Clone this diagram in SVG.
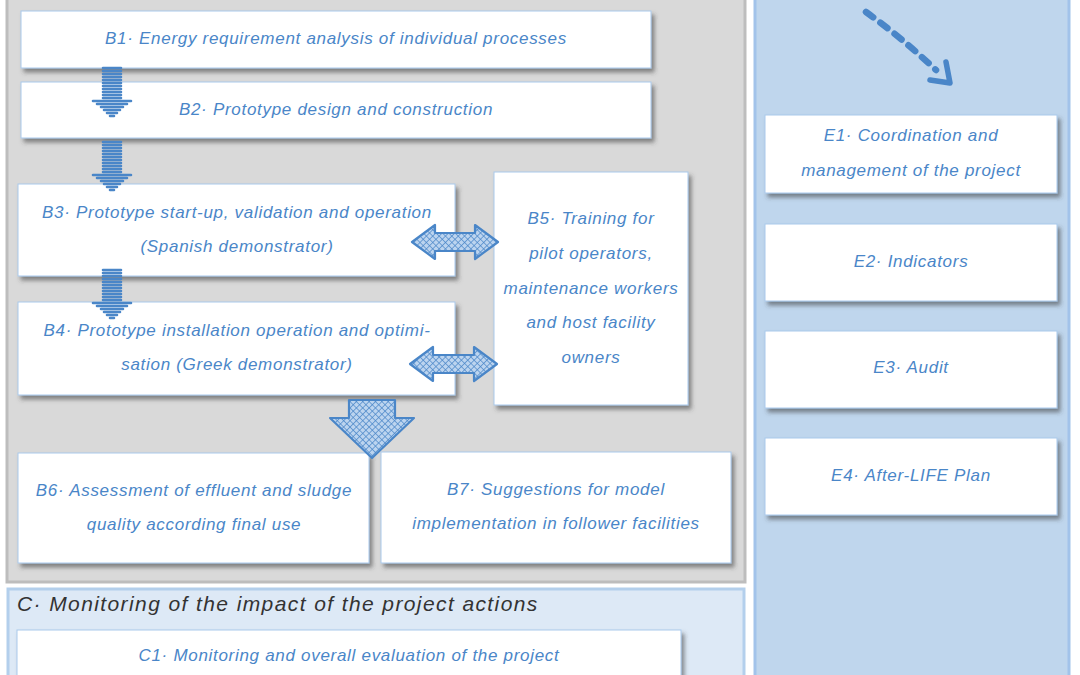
<svg xmlns="http://www.w3.org/2000/svg" width="1080" height="675" viewBox="0 0 1080 675">
<defs>
<style>
.box{fill:#ffffff;stroke:#a9c9ec;stroke-width:1;filter:url(#sh)}
.t{font-family:"Liberation Sans","DejaVu Sans",sans-serif;font-style:italic;font-size:17px;letter-spacing:0.7px;fill:#4a86c8;text-anchor:middle}
.title{font-family:"Liberation Sans","DejaVu Sans",sans-serif;font-style:italic;font-size:21px;letter-spacing:1.4px;fill:#333333}
.stripe{stroke:#4a86c8;stroke-width:2.6;stroke-linecap:round}
.hatch{fill:url(#hp);stroke:#4a86c8;stroke-width:2.2;stroke-linejoin:round}
</style>
<filter id="sh" x="-5%" y="-10%" width="115%" height="130%">
<feDropShadow dx="3" dy="4" stdDeviation="2" flood-color="#3a3a3a" flood-opacity="0.55"/>
</filter>
<pattern id="hp" patternUnits="userSpaceOnUse" width="4.5" height="4.5" patternTransform="rotate(45)">
<rect width="4.5" height="4.5" fill="#bcd4ef"/>
<path d="M0,0 L4.5,0 M0,0 L0,4.5" stroke="#4a86c8" stroke-width="1.4"/>
</pattern>
<g id="sarrow">
<path class="stripe" d="M103,68H121M103,71H121M103,74H121M103,77H121M103,80H121M103,83H121M103,86H121M103,89H121M103,92H121M103,95H121M103,98H121M93,101H131M97,104H127M101,107H123M104,110H120M107,113H117M110,116H114"/>
</g>
</defs>

<g id="panel-b">
<rect x="7" y="-5" width="738" height="587" fill="#d9d9d9" stroke="#bdbdbd" stroke-width="3"/>
</g>
<g id="panel-c">
<rect x="8" y="589" width="736" height="95" fill="#dde9f6" stroke="#b3cfec" stroke-width="3"/>
<text class="title" x="17" y="611">C· Monitoring of the impact of the project actions</text>
</g>
<g id="panel-e">
<rect x="755" y="-5" width="314" height="690" fill="#bfd6ed" stroke="#a2c3ea" stroke-width="3"/>
</g>

<g id="B1">
<rect class="box" x="21" y="11" width="630" height="57"/>
<text class="t" x="336" y="44">B1· Energy requirement analysis of individual processes</text>
</g>
<g id="B2">
<rect class="box" x="21" y="82" width="630" height="56"/>
<text class="t" x="336" y="115">B2· Prototype design and construction</text>
</g>
<g id="B3">
<rect class="box" x="18" y="184" width="437" height="92"/>
<text class="t" x="237" y="218">B3· Prototype start-up, validation and operation</text>
<text class="t" x="237" y="252">(Spanish demonstrator)</text>
</g>
<g id="B4">
<rect class="box" x="18" y="302" width="437" height="93"/>
<text class="t" x="237" y="336">B4· Prototype installation operation and optimi-</text>
<text class="t" x="237" y="370">sation (Greek demonstrator)</text>
</g>
<g id="B5">
<rect class="box" x="494" y="172" width="194" height="233"/>
<text class="t" x="591" y="224">B5· Training for</text>
<text class="t" x="591" y="259">pilot operators,</text>
<text class="t" x="591" y="294">maintenance workers</text>
<text class="t" x="591" y="328">and host facility</text>
<text class="t" x="591" y="363">owners</text>
</g>
<g id="B6">
<rect class="box" x="18" y="453" width="351" height="110"/>
<text class="t" x="194" y="496">B6· Assessment of effluent and sludge</text>
<text class="t" x="194" y="530">quality according final use</text>
</g>
<g id="B7">
<rect class="box" x="381" y="452" width="350" height="111"/>
<text class="t" x="556" y="495">B7· Suggestions for model</text>
<text class="t" x="556" y="529">implementation in follower facilities</text>
</g>
<g id="C1">
<rect class="box" x="17" y="630" width="664" height="60"/>
<text class="t" x="349" y="661">C1· Monitoring and overall evaluation of the project</text>
</g>
<g id="E1">
<rect class="box" x="765" y="115" width="292" height="78"/>
<text class="t" x="911" y="141">E1· Coordination and</text>
<text class="t" x="911" y="176">management of the project</text>
</g>
<g id="E2">
<rect class="box" x="765" y="224" width="292" height="77"/>
<text class="t" x="911" y="267">E2· Indicators</text>
</g>
<g id="E3">
<rect class="box" x="765" y="331" width="292" height="77"/>
<text class="t" x="911" y="373">E3· Audit</text>
</g>
<g id="E4">
<rect class="box" x="765" y="438" width="292" height="77"/>
<text class="t" x="911" y="481">E4· After-LIFE Plan</text>
</g>

<g id="connectors">
<use href="#sarrow"/>
<use href="#sarrow" transform="translate(0,74)"/>
<use href="#sarrow" transform="translate(0,202)"/>
<path class="hatch" d="M412,242 L435,225 L435,233 L475,233 L475,225 L498,242 L475,259 L475,251 L435,251 L435,259 Z"/>
<path class="hatch" d="M410,364 L433,347 L433,355 L474,355 L474,347 L497,364 L474,381 L474,373 L433,373 L433,381 Z"/>
<path class="hatch" d="M349,400 L395,400 L395,418 L414,418 L372,458 L330,418 L349,418 Z"/>
<path d="M866,12 Q902,38 936,70" fill="none" stroke="#4a86c8" stroke-width="6.5" stroke-linecap="round" stroke-dasharray="9 9"/>
<path d="M930,80 L950,83 L946,62" fill="none" stroke="#4a86c8" stroke-width="5.5" stroke-linecap="round" stroke-linejoin="round"/>
</g>
</svg>
